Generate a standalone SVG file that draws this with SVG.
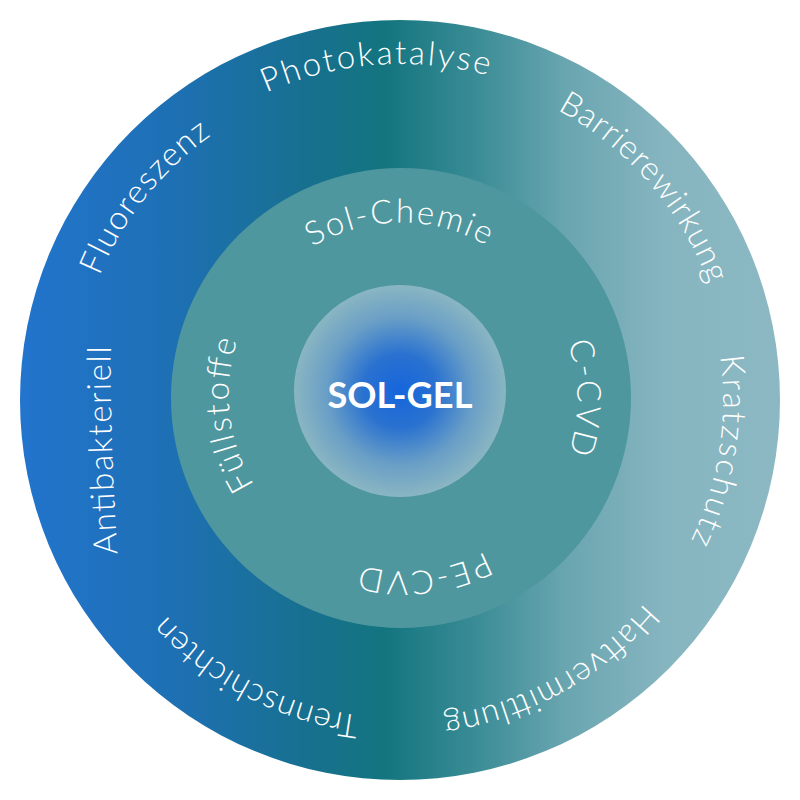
<svg xmlns="http://www.w3.org/2000/svg" xmlns:xlink="http://www.w3.org/1999/xlink" width="800" height="800" viewBox="0 0 800 800">
  <style>
    .lbl { font-family: "Lato", "Liberation Sans", sans-serif; font-weight: 300; fill: #ffffff; }
    .outer { font-size: 33px; }
    .inner { font-size: 33px; }
    .core { font-family: "Lato", "Liberation Sans", sans-serif; font-weight: 700; font-size: 36px; fill: #ffffff; }
  </style>
  <defs>
    <linearGradient id="gOuter" x1="20" y1="0" x2="780" y2="0" gradientUnits="userSpaceOnUse">
      <stop offset="0" stop-color="#2274cd"/>
      <stop offset="0.2" stop-color="#1e70b4"/>
      <stop offset="0.38" stop-color="#17708f"/>
      <stop offset="0.48" stop-color="#13757f"/>
      <stop offset="0.6" stop-color="#3a8c96"/>
      <stop offset="0.72" stop-color="#6aa6b0"/>
      <stop offset="0.85" stop-color="#86b5c0"/>
      <stop offset="1" stop-color="#8bb8c3"/>
    </linearGradient>
    <radialGradient id="gCore" cx="400" cy="391" r="106" gradientUnits="userSpaceOnUse">
      <stop offset="0" stop-color="#1565dc"/>
      <stop offset="0.35" stop-color="#2a72d0"/>
      <stop offset="0.7" stop-color="#6a9fc6"/>
      <stop offset="1" stop-color="#8ab6c2"/>
    </radialGradient>
    <path id="pPhoto" d="M401,730 A333,333 0 1 1 401,64 A333,333 0 1 1 401,730"/>
    <path id="pBarr" d="M400,730 A330,330 0 1 1 400,70 A330,330 0 1 1 400,730"/>
    <path id="pKratz" d="M400,723 A323,323 0 1 1 400,77 A323,323 0 1 1 400,723"/>
    <path id="pHaft" d="M400,718 A318,318 0 1 1 400,82 A318,318 0 1 1 400,718"/>
    <path id="pTrenn" d="M400,718 A318,318 0 1 1 400,82 A318,318 0 1 1 400,718"/>
    <path id="pAnti" d="M121,600 A3000,3000 0 0 1 111,300"/>
    <path id="pFluo" d="M400,725 A325,325 0 1 1 400,75 A325,325 0 1 1 400,725"/>
    <path id="pInner" d="M281.4,518.6 A172,172 0 1 1 524.6,275.4 A172,172 0 1 1 281.4,518.6"/>
  </defs>

  <g id="ring-outer">
    <circle cx="400" cy="400" r="380" fill="url(#gOuter)"/>
  </g>
  <g id="ring-middle">
    <circle cx="401" cy="398" r="230" fill="#4f979f"/>
  </g>
  <g id="core">
    <circle cx="400" cy="391" r="106" fill="url(#gCore)"/>
    <text class="core" x="400" y="408" text-anchor="middle" textLength="145" lengthAdjust="spacingAndGlyphs">SOL-GEL</text>
  </g>

  <g id="outer-labels">
    <text id="photokatalyse" class="lbl outer"><textPath xlink:href="#pPhoto" href="#pPhoto" startOffset="48.78%" text-anchor="middle" textLength="227" lengthAdjust="spacing">Photokatalyse</textPath></text>
    <text id="barrierewirkung" class="lbl outer"><textPath xlink:href="#pBarr" href="#pBarr" startOffset="63.6%" text-anchor="middle" textLength="236" lengthAdjust="spacing">Barrierewirkung</textPath></text>
    <text id="kratzschutz" class="lbl outer"><textPath xlink:href="#pKratz" href="#pKratz" startOffset="77.5%" text-anchor="middle" textLength="190" lengthAdjust="spacing">Kratzschutz</textPath></text>
    <text id="haftvermittlung" class="lbl outer"><textPath xlink:href="#pHaft" href="#pHaft" startOffset="91.94%" text-anchor="middle" textLength="236" lengthAdjust="spacing">Haftvermittlung</textPath></text>
    <text id="trennschichten" class="lbl outer"><textPath xlink:href="#pTrenn" href="#pTrenn" startOffset="7.6%" text-anchor="middle" textLength="222" lengthAdjust="spacing">Trennschichten</textPath></text>
    <text id="antibakteriell" class="lbl outer"><textPath xlink:href="#pAnti" href="#pAnti" startOffset="50%" text-anchor="middle" textLength="208" lengthAdjust="spacing">Antibakteriell</textPath></text>
    <text id="fluoreszenz" class="lbl outer"><textPath xlink:href="#pFluo" href="#pFluo" startOffset="35.69%" text-anchor="middle" textLength="182" lengthAdjust="spacing">Fluoreszenz</textPath></text>
  </g>

  <g id="inner-labels">
    <text id="sol-chemie" class="lbl inner"><textPath xlink:href="#pInner" href="#pInner" startOffset="37.2%" text-anchor="middle" textLength="182" lengthAdjust="spacing">Sol-Chemie</textPath></text>
    <text id="c-cvd" class="lbl inner"><textPath xlink:href="#pInner" href="#pInner" startOffset="62.5%" text-anchor="middle" textLength="112" lengthAdjust="spacing">C-CVD</textPath></text>
    <text id="pe-cvd" class="lbl inner"><textPath xlink:href="#pInner" href="#pInner" startOffset="85.6%" text-anchor="middle" textLength="128" lengthAdjust="spacing">PE-CVD</textPath></text>
    <text id="fuellstoffe" class="lbl inner"><textPath xlink:href="#pInner" href="#pInner" startOffset="10.8%" text-anchor="middle" textLength="150" lengthAdjust="spacing">Füllstoffe</textPath></text>
  </g>
</svg>
